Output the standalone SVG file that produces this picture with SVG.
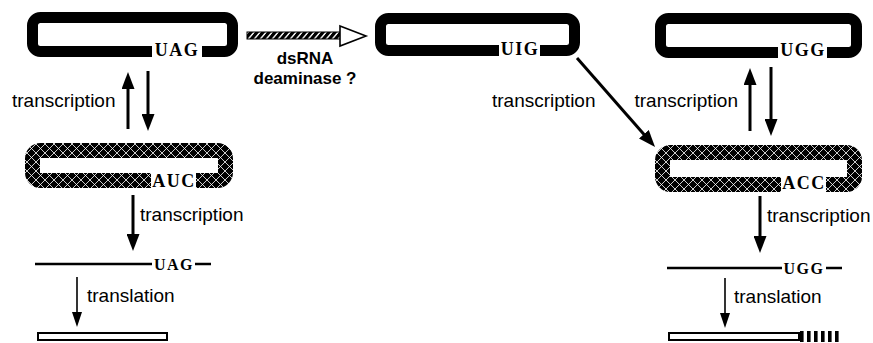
<svg xmlns="http://www.w3.org/2000/svg" width="873" height="343" viewBox="0 0 873 343">
  <style>
    .rna { fill: none; stroke: #000; stroke-width: 11; }
    .dsrna { fill: none; stroke: url(#lattice); stroke-width: 15; }
    .gap { fill: #fff; }
    .codon { font-family: "Liberation Serif", serif; font-weight: bold; font-size: 18px; letter-spacing: 1.5px; text-anchor: middle; fill: #000; }
    .codon-s { font-family: "Liberation Serif", serif; font-weight: bold; font-size: 16px; letter-spacing: 1.5px; text-anchor: middle; fill: #000; }
    .lbl { font-family: "Liberation Sans", Arial, sans-serif; font-size: 19px; fill: #000; }
    .lblb { font-family: "Liberation Sans", Arial, sans-serif; font-size: 17px; font-weight: bold; text-anchor: middle; fill: #000; }
    .thick { stroke: #000; stroke-width: 3; fill: none; marker-end: url(#head); }
    .thin { stroke: #000; stroke-width: 1.6; fill: none; marker-end: url(#headsm); }
    .strand { stroke: #000; stroke-width: 2.5; }
  </style>
  <defs>
    <!-- double-stranded RNA: black band with a white chain-link lattice -->
    <pattern id="lattice" patternUnits="userSpaceOnUse" width="9" height="9">
      <rect width="9" height="9" fill="#000"/>
      <path d="M0,0 L9,9 M9,0 L0,9" stroke="#fff" stroke-width="0.8"/>
    </pattern>
    <!-- slanted stripes for the enzyme arrow -->
    <pattern id="slant" patternUnits="userSpaceOnUse" width="6" height="10" patternTransform="skewX(-40)">
      <rect width="4.2" height="10" fill="#000"/>
    </pattern>
    <!-- vertical bars for the extended protein tail -->
    <pattern id="bars" patternUnits="userSpaceOnUse" x="800" width="7" height="12">
      <rect width="3.6" height="12" fill="#000"/>
    </pattern>
    <marker id="head" markerUnits="userSpaceOnUse" viewBox="0 0 17 13" markerWidth="17" markerHeight="13" refX="1" refY="6.5" orient="auto">
      <path d="M0,0 L17,6.5 L0,13 z" fill="#000"/>
    </marker>
    <marker id="headsm" markerUnits="userSpaceOnUse" viewBox="0 0 15 10" markerWidth="15" markerHeight="10" refX="1" refY="5" orient="auto">
      <path d="M0,0 L15,5 L0,10 z" fill="#000"/>
    </marker>
  </defs>

  <!-- single-stranded RNA, UAG -->
  <g id="rna-uag">
    <rect class="rna" x="32.5" y="17.5" width="200" height="34" rx="8"/>
    <rect class="gap" x="152" y="44" width="50" height="15"/>
    <text class="codon" x="177" y="56">UAG</text>
  </g>

  <!-- edited RNA, UIG -->
  <g id="rna-uig">
    <rect class="rna" x="380.5" y="18.5" width="194" height="32" rx="8"/>
    <rect class="gap" x="499" y="44" width="41" height="15"/>
    <text class="codon" x="520" y="55">UIG</text>
  </g>

  <!-- RNA, UGG -->
  <g id="rna-ugg">
    <rect class="rna" x="660.5" y="18.5" width="196" height="34" rx="8"/>
    <rect class="gap" x="778" y="45" width="49" height="16"/>
    <text class="codon" x="803" y="56">UGG</text>
  </g>

  <!-- complementary strand, AUC -->
  <g id="crna-auc">
    <rect class="dsrna" x="32.5" y="150.5" width="193" height="30" rx="8"/>
    <rect class="gap" x="151" y="172" width="45" height="18"/>
    <text class="codon" x="174" y="187">AUC</text>
  </g>

  <!-- complementary strand, ACC -->
  <g id="crna-acc">
    <rect class="dsrna" x="662.5" y="152.5" width="192" height="32" rx="8"/>
    <rect class="gap" x="781" y="176" width="45" height="18"/>
    <text class="codon" x="804" y="189">ACC</text>
  </g>

  <!-- mRNA, UAG -->
  <g id="mrna-uag">
    <line class="strand" x1="35" y1="264" x2="152" y2="264"/>
    <line class="strand" x1="195" y1="264" x2="211" y2="264"/>
    <text class="codon-s" x="174" y="270">UAG</text>
  </g>

  <!-- mRNA, UGG -->
  <g id="mrna-ugg">
    <line class="strand" x1="667" y1="268" x2="782" y2="268"/>
    <line class="strand" x1="826" y1="268" x2="842" y2="268"/>
    <text class="codon-s" x="804" y="274">UGG</text>
  </g>

  <!-- truncated protein -->
  <g id="protein-short">
    <rect x="38" y="333" width="129" height="7" fill="#fff" stroke="#000" stroke-width="2"/>
  </g>

  <!-- extended protein -->
  <g id="protein-long">
    <rect x="669" y="333" width="130" height="7" fill="#fff" stroke="#000" stroke-width="2"/>
    <rect x="800" y="331" width="40" height="11" fill="url(#bars)"/>
  </g>

  <!-- enzyme step -->
  <g id="deaminase">
    <rect x="247" y="32" width="95" height="7" fill="url(#slant)" stroke="#000" stroke-width="1"/>
    <polygon points="340,26 366,36 340,46" fill="#fff" stroke="#000" stroke-width="1.6"/>
    <text class="lblb" x="305" y="64">dsRNA</text>
    <text class="lblb" x="305" y="84">deaminase ?</text>
  </g>

  <g id="connectors">
    <line class="thick" x1="128" y1="129" x2="128" y2="88"/>
    <line class="thick" x1="148" y1="71" x2="148" y2="115"/>
    <line class="thick" x1="577" y1="58" x2="644.5" y2="135"/>
    <line class="thick" x1="750" y1="131" x2="750" y2="84"/>
    <line class="thick" x1="771" y1="67" x2="771" y2="120"/>
    <line class="thick" x1="133" y1="195" x2="133" y2="235"/>
    <line class="thick" x1="760" y1="196" x2="760" y2="237"/>
    <line class="thin" x1="77" y1="277" x2="77" y2="313"/>
    <line class="thin" x1="725" y1="278" x2="725" y2="314"/>
  </g>

  <g id="labels">
    <text class="lbl" x="12" y="107">transcription</text>
    <text class="lbl" x="492" y="107">transcription</text>
    <text class="lbl" x="738" y="107" text-anchor="end">transcription</text>
    <text class="lbl" x="140" y="221">transcription</text>
    <text class="lbl" x="767" y="222">transcription</text>
    <text class="lbl" x="87" y="302">translation</text>
    <text class="lbl" x="734" y="303">translation</text>
  </g>
</svg>
